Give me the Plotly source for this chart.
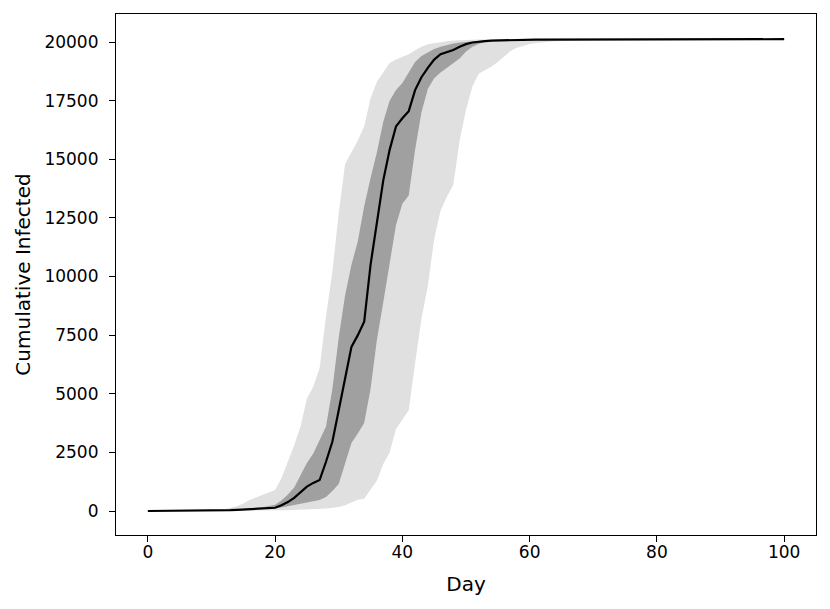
import plotly.graph_objects as go

# jours 0..100
days = list(range(101))

median = [0, 1, 2, 3, 4, 5, 7, 9, 12, 15,
          19, 24, 30, 38, 48, 60, 75, 90, 105, 120,
          140, 250, 380, 560, 780, 1040, 1200, 1320, 2100, 2950,
          4300, 5600, 7000, 7500, 8070, 10500, 12300, 14100, 15400, 16400,
          16750, 17050, 17950, 18500, 18900, 19250, 19480, 19580, 19660, 19800,
          19910, 19980, 20020, 20040, 20060, 20070, 20080, 20085, 20090, 20095,
          20100, 20102, 20103, 20104, 20105, 20106, 20107, 20108, 20109, 20110,
          20110, 20111, 20111, 20112, 20112, 20113, 20113, 20114, 20114, 20115,
          20115, 20115, 20116, 20116, 20116, 20117, 20117, 20117, 20118, 20118,
          20118, 20118, 20119, 20119, 20119, 20119, 20120, 20120, 20120, 20120, 20120]

inner_upper = [0, 1, 2, 4, 5, 7, 9, 12, 15, 19,
               24, 30, 38, 48, 62, 80, 100, 130, 160, 200,
               270, 450, 700, 1000, 1500, 2050, 2450, 3050, 3600, 5200,
               7400, 9200, 10500, 11500, 13000, 14200, 15300, 16600, 17500, 17950,
               18250, 18700, 19150, 19400, 19550, 19700, 19800, 19880, 19940, 19980,
               20010, 20040, 20060, 20075, 20085, 20095, 20100, 20104, 20107, 20110,
               20112, 20113, 20114, 20115, 20116, 20117, 20118, 20119, 20120, 20121,
               20121, 20122, 20122, 20123, 20123, 20123, 20124, 20124, 20124, 20125,
               20125, 20125, 20125, 20126, 20126, 20126, 20126, 20126, 20127, 20127,
               20127, 20127, 20127, 20127, 20128, 20128, 20128, 20128, 20128, 20128, 20128]

inner_lower = [0, 0, 1, 2, 3, 4, 5, 7, 9, 12,
               15, 19, 24, 30, 38, 48, 58, 70, 82, 95,
               110, 150, 200, 260, 320, 380, 420, 470, 600, 850,
               1150, 2000, 2900, 3300, 3750, 5200, 7300, 8900, 10500, 12200,
               13100, 13450, 15400, 17000, 18000, 18450, 18700, 18900, 19100, 19300,
               19600, 19800, 19920, 20000, 20040, 20060, 20072, 20078, 20083, 20088,
               20092, 20095, 20097, 20099, 20100, 20101, 20102, 20103, 20104, 20105,
               20106, 20107, 20108, 20108, 20109, 20109, 20110, 20110, 20111, 20111,
               20112, 20112, 20112, 20113, 20113, 20113, 20114, 20114, 20114, 20114,
               20115, 20115, 20115, 20115, 20115, 20116, 20116, 20116, 20116, 20116, 20116]

outer_upper = [0, 2, 4, 6, 8, 10, 13, 16, 20, 26,
               32, 40, 80, 130, 200, 320, 470, 580, 680, 780,
               900, 1400, 2100, 2800, 3600, 4800, 5300, 6100, 8300, 10200,
               12700, 14800, 15300, 15800, 16400, 17600, 18300, 18700, 19100, 19250,
               19350, 19480, 19650, 19800, 19900, 19950, 20000, 20030, 20060, 20080,
               20090, 20100, 20105, 20110, 20113, 20116, 20118, 20120, 20122, 20124,
               20125, 20126, 20127, 20128, 20129, 20130, 20130, 20131, 20131, 20132,
               20132, 20133, 20133, 20133, 20134, 20134, 20134, 20135, 20135, 20135,
               20135, 20136, 20136, 20136, 20136, 20137, 20137, 20137, 20137, 20137,
               20138, 20138, 20138, 20138, 20138, 20138, 20139, 20139, 20139, 20139, 20139]

outer_lower = [0, 0, 0, 0, 0, 0, 0, 0, 0, 0,
               0, 0, 1, 1, 2, 2, 3, 4, 5, 7,
               10, 20, 30, 40, 50, 60, 70, 90, 110, 140,
               170, 250, 380, 480, 520, 900, 1300, 2000, 2500, 3500,
               3900, 4300, 6300, 8200, 9600, 11600, 12800, 13400, 13900, 15800,
               17100, 18100, 18650, 18800, 18950, 19150, 19400, 19620, 19760, 19850,
               19920, 19960, 19990, 20010, 20030, 20045, 20060, 20070, 20080, 20085,
               20090, 20093, 20095, 20097, 20098, 20099, 20100, 20101, 20102, 20103,
               20104, 20104, 20105, 20105, 20106, 20106, 20107, 20107, 20107, 20108,
               20108, 20108, 20109, 20109, 20109, 20109, 20110, 20110, 20110, 20110, 20110]

fig = go.Figure()

# bande extérieure
fig.add_trace(go.Scatter(x=days, y=outer_lower, mode='lines', line=dict(width=0),
                         showlegend=False, hoverinfo='skip'))
fig.add_trace(go.Scatter(x=days, y=outer_upper, mode='lines', line=dict(width=0),
                         fill='tonexty', fillcolor='#e0e0e0', showlegend=False, hoverinfo='skip'))

# bande intérieure
fig.add_trace(go.Scatter(x=days, y=inner_lower, mode='lines', line=dict(width=0),
                         showlegend=False, hoverinfo='skip'))
fig.add_trace(go.Scatter(x=days, y=inner_upper, mode='lines', line=dict(width=0),
                         fill='tonexty', fillcolor='#a0a0a0', showlegend=False, hoverinfo='skip'))

# médiane
fig.add_trace(go.Scatter(x=days, y=median, mode='lines', line=dict(color='black', width=2.2),
                         showlegend=False))

axis_style = dict(showgrid=False, zeroline=False, showline=True, linecolor='black', linewidth=1.2,
                  mirror=True, ticks='outside', ticklen=6, tickwidth=1.2, tickcolor='black',
                  tickfont=dict(size=17, color='black'))

fig.update_layout(
    width=830, height=609,
    margin=dict(l=108, r=22, t=6, b=82),
    plot_bgcolor='white', paper_bgcolor='white',
    font=dict(family='DejaVu Sans', size=17, color='black'),
    xaxis=dict(range=[-5, 105], dtick=20, ticklabelstandoff=-5,
               title=dict(text='Day', standoff=16), **axis_style),
    yaxis=dict(range=[-1023, 21194], dtick=2500, tickformat='d', ticklabelstandoff=7,
               title=dict(text='Cumulative Infected', standoff=8), **axis_style),
)

fig.write_html("out.html")
